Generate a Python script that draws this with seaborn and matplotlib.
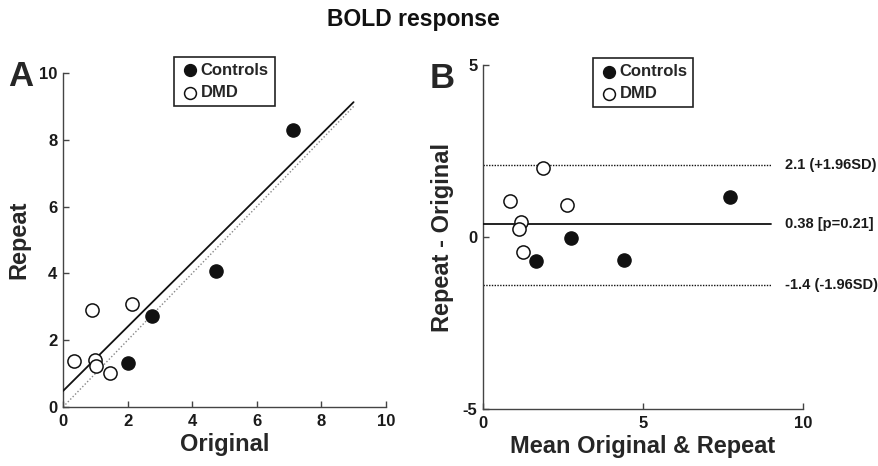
import numpy as np
import pandas as pd
import matplotlib
matplotlib.use("Agg")
import matplotlib.pyplot as plt
import seaborn as sns

sns.set_theme(style="ticks")
plt.rcParams['font.family'] = ['Liberation Sans', 'DejaVu Sans']
plt.rcParams['font.weight'] = 'bold'
plt.rcParams['axes.unicode_minus'] = False

# Panel A data
controls_original = [7.13, 4.73, 2.76, 2.01]
controls_repeat = [8.28, 4.06, 2.73, 1.32]
dmd_original = [0.33, 0.89, 0.98, 1.02, 1.45, 2.15]
dmd_repeat = [1.38, 2.89, 1.42, 1.24, 1.02, 3.07]

fit_intercept = 0.48
fit_slope = 0.961
line_x_range = [0, 9]

bias = 0.38
upper_loa = 2.1
lower_loa = -1.4
bias_label = "0.38 [p=0.21]"
upper_label = "2.1 (+1.96SD)"
lower_label = "-1.4 (-1.96SD)"

groups = ["Controls"] * len(controls_original) + ["DMD"] * len(dmd_original)
df = pd.DataFrame({
    "Original": controls_original + dmd_original,
    "Repeat": controls_repeat + dmd_repeat,
    "Group": groups,
})
df["Mean"] = (df["Original"] + df["Repeat"]) / 2
df["Diff"] = df["Repeat"] - df["Original"]

fig = plt.figure(figsize=(8.79, 4.66), dpi=100)
axA = fig.add_axes([0.0717, 0.1266, 0.3673, 0.7167])
axB = fig.add_axes([0.5495, 0.1223, 0.364, 0.7382])

spine_col = "#444444"
msize = 90

def style_axis(ax):
    for s in ["top", "right"]:
        ax.spines[s].set_visible(False)
    for s in ["left", "bottom"]:
        ax.spines[s].set_color(spine_col)
        ax.spines[s].set_linewidth(1.0)
    ax.tick_params(direction="in", length=4, width=1, colors=spine_col,
                   labelcolor="#1a1a1a", labelsize=12)
    ax.tick_params(axis="x", pad=5)
    ax.tick_params(axis="y", pad=4)
    plt.setp(ax.get_xticklabels() + ax.get_yticklabels(), fontweight="bold")

def draw_points(ax, x, y, anchor_y):
    c = df[df.Group == "Controls"]
    d = df[df.Group == "DMD"]
    sns.scatterplot(data=c, x=x, y=y, ax=ax, s=msize, color="#111111",
                    edgecolor="#111111", linewidth=1.0, zorder=5, label="Controls")
    sns.scatterplot(data=d, x=x, y=y, ax=ax, s=msize, facecolor="white",
                    edgecolor="#111111", linewidth=1.1, zorder=5, label="DMD")
    leg = ax.legend(loc="upper center", bbox_to_anchor=(0.5, anchor_y), frameon=True,
                    fancybox=False, edgecolor="#222222", framealpha=1,
                    borderaxespad=0, handletextpad=0.05, borderpad=0.35,
                    labelspacing=0.45, handlelength=1.2, markerscale=0.9,
                    prop={"weight": "bold", "size": 12})
    leg.get_frame().set_linewidth(1.2)

# Panel A
lx = np.array(line_x_range, dtype=float)
axA.plot(lx, lx, ls=(0, (1, 1.5)), color="#888888", lw=1.0, zorder=2)
axA.plot(lx, fit_intercept + fit_slope * lx, color="#111111", lw=1.3, zorder=3)
draw_points(axA, "Original", "Repeat", 1.048)
axA.set_xlim(0, 10)
axA.set_ylim(0, 10)
axA.set_xticks([0, 2, 4, 6, 8, 10])
axA.set_yticks([0, 2, 4, 6, 8, 10])
axA.set_xlabel("Original", fontsize=17, fontweight="bold", labelpad=3)
axA.set_ylabel("Repeat", fontsize=17, fontweight="bold", labelpad=6)
style_axis(axA)

# Panel B
axB.plot(lx, [bias, bias], color="#111111", lw=1.3, zorder=3)
axB.plot(lx, [upper_loa, upper_loa], color="#111111", lw=1.0, ls=(0, (1, 1)), zorder=2)
axB.plot(lx, [lower_loa, lower_loa], color="#111111", lw=1.0, ls=(0, (1, 1)), zorder=2)
for yv, txt in [(upper_loa, upper_label), (bias, bias_label), (lower_loa, lower_label)]:
    axB.text(9.45, yv, txt, fontsize=10.5, fontweight="bold", va="center", ha="left",
             color="#1a1a1a", clip_on=False)
draw_points(axB, "Mean", "Diff", 1.02)
axB.set_xlim(0, 10)
axB.set_ylim(-5, 5)
axB.set_xticks([0, 5, 10])
axB.set_yticks([-5, 0, 5])
axB.set_xlabel("Mean Original & Repeat", fontsize=17, fontweight="bold", labelpad=3)
axB.set_ylabel("Repeat - Original", fontsize=17, fontweight="bold", labelpad=6)
style_axis(axB)

fig.text(0.47, 0.958, "BOLD response", ha="center", va="center", fontsize=16.5,
         fontweight="bold", color="#111111")
fig.text(0.009, 0.835, "A", fontsize=25, fontweight="bold", ha="left", va="center")
fig.text(0.489, 0.832, "B", fontsize=25, fontweight="bold", ha="left", va="center")

fig.savefig("out.png", dpi=100)
